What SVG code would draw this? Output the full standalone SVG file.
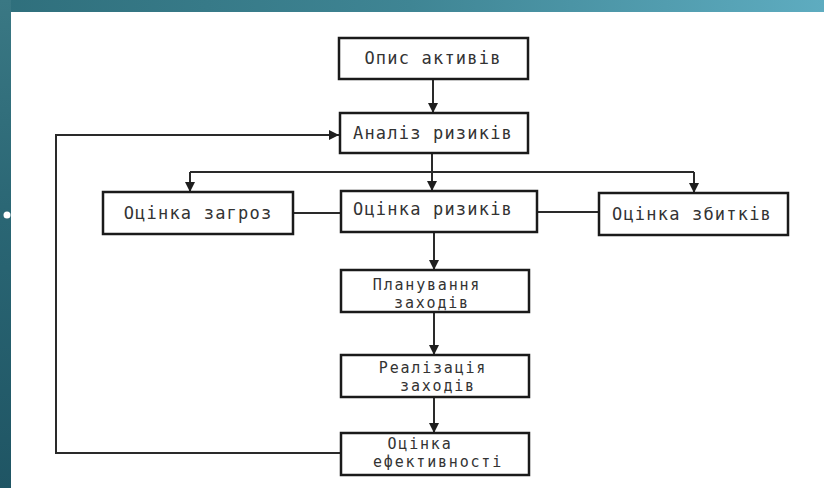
<svg xmlns="http://www.w3.org/2000/svg" width="824" height="488" viewBox="0 0 824 488">
  <defs>
    <linearGradient id="band" x1="0" y1="0" x2="1" y2="0">
      <stop offset="0" stop-color="#2f6f7c"/>
      <stop offset="0.5" stop-color="#3f8594"/>
      <stop offset="1" stop-color="#5eacc0"/>
    </linearGradient>
    <linearGradient id="side" x1="0" y1="0" x2="0" y2="1">
      <stop offset="0" stop-color="#3a7884"/>
      <stop offset="0.45" stop-color="#2a6674"/>
      <stop offset="1" stop-color="#1f5564"/>
    </linearGradient>
    <marker id="arrow" viewBox="0 0 10 10" refX="10" refY="5" markerWidth="10" markerHeight="10" markerUnits="userSpaceOnUse" orient="auto">
      <path d="M0,0 L10,5 L0,10 z" fill="#1e1e1e"/>
    </marker>
    <style>
      .box { fill: #ffffff; stroke: #1a1a1a; stroke-width: 2.5; }
      .lbl { font-family: "DejaVu Sans Mono", "Liberation Mono", monospace; font-size: 17px; fill: #333333; text-anchor: middle; letter-spacing: 1.2px; }
      .two { font-size: 15px; letter-spacing: 1.8px; }
      .wire { fill: none; stroke: #2a2a2a; stroke-width: 2; }
      .arr { marker-end: url(#arrow); }
    </style>
  </defs>

  <!-- slide backdrop -->
  <rect x="0" y="0" width="824" height="488" fill="#ffffff"/>
  <rect x="0" y="0" width="824" height="12" fill="url(#band)"/>
  <rect x="0" y="0" width="11" height="488" fill="url(#side)"/>
  <circle cx="7" cy="215" r="3.5" fill="#ffffff"/>

  <!-- connectors -->
  <g id="connectors">
    <path class="wire arr" d="M433,79 V113"/>
    <path class="wire arr" d="M432,153 V191"/>
    <path class="wire" d="M190,172 H694"/>
    <path class="wire arr" d="M190,172 V192"/>
    <path class="wire arr" d="M694,172 V193"/>
    <path class="wire" d="M293,213 H341"/>
    <path class="wire" d="M537,212 H599"/>
    <path class="wire arr" d="M434,232 V270"/>
    <path class="wire arr" d="M434,312 V355"/>
    <path class="wire arr" d="M434,397 V433"/>
    <path class="wire arr" d="M341,453 H56 V135 H339"/>
  </g>

  <g id="assets">
    <rect class="box" x="339" y="38" width="189" height="41"/>
    <text class="lbl" x="433" y="64">Опис активів</text>
  </g>

  <g id="analysis">
    <rect class="box" x="340" y="113" width="188" height="40"/>
    <text class="lbl" x="433" y="139">Аналіз ризиків</text>
  </g>

  <g id="threats">
    <rect class="box" x="103" y="192" width="190" height="42"/>
    <text class="lbl" x="198" y="219">Оцінка загроз</text>
  </g>

  <g id="risks">
    <rect class="box" x="341" y="191" width="196" height="41"/>
    <text class="lbl" x="433" y="215">Оцінка ризиків</text>
  </g>

  <g id="damage">
    <rect class="box" x="599" y="193" width="189" height="42"/>
    <text class="lbl" x="692" y="220">Оцінка збитків</text>
  </g>

  <g id="planning">
    <rect class="box" x="341" y="270" width="188" height="42"/>
    <text class="lbl two" x="427" y="290">Планування</text>
    <text class="lbl two" x="432" y="308">заходів</text>
  </g>

  <g id="implementation">
    <rect class="box" x="341" y="355" width="188" height="42"/>
    <text class="lbl two" x="433" y="373">Реалізація</text>
    <text class="lbl two" x="438" y="391">заходів</text>
  </g>

  <g id="efficiency">
    <rect class="box" x="341" y="433" width="188" height="42"/>
    <text class="lbl two" x="420" y="449">Оцінка</text>
    <text class="lbl two" x="438" y="467">ефективності</text>
  </g>
</svg>
